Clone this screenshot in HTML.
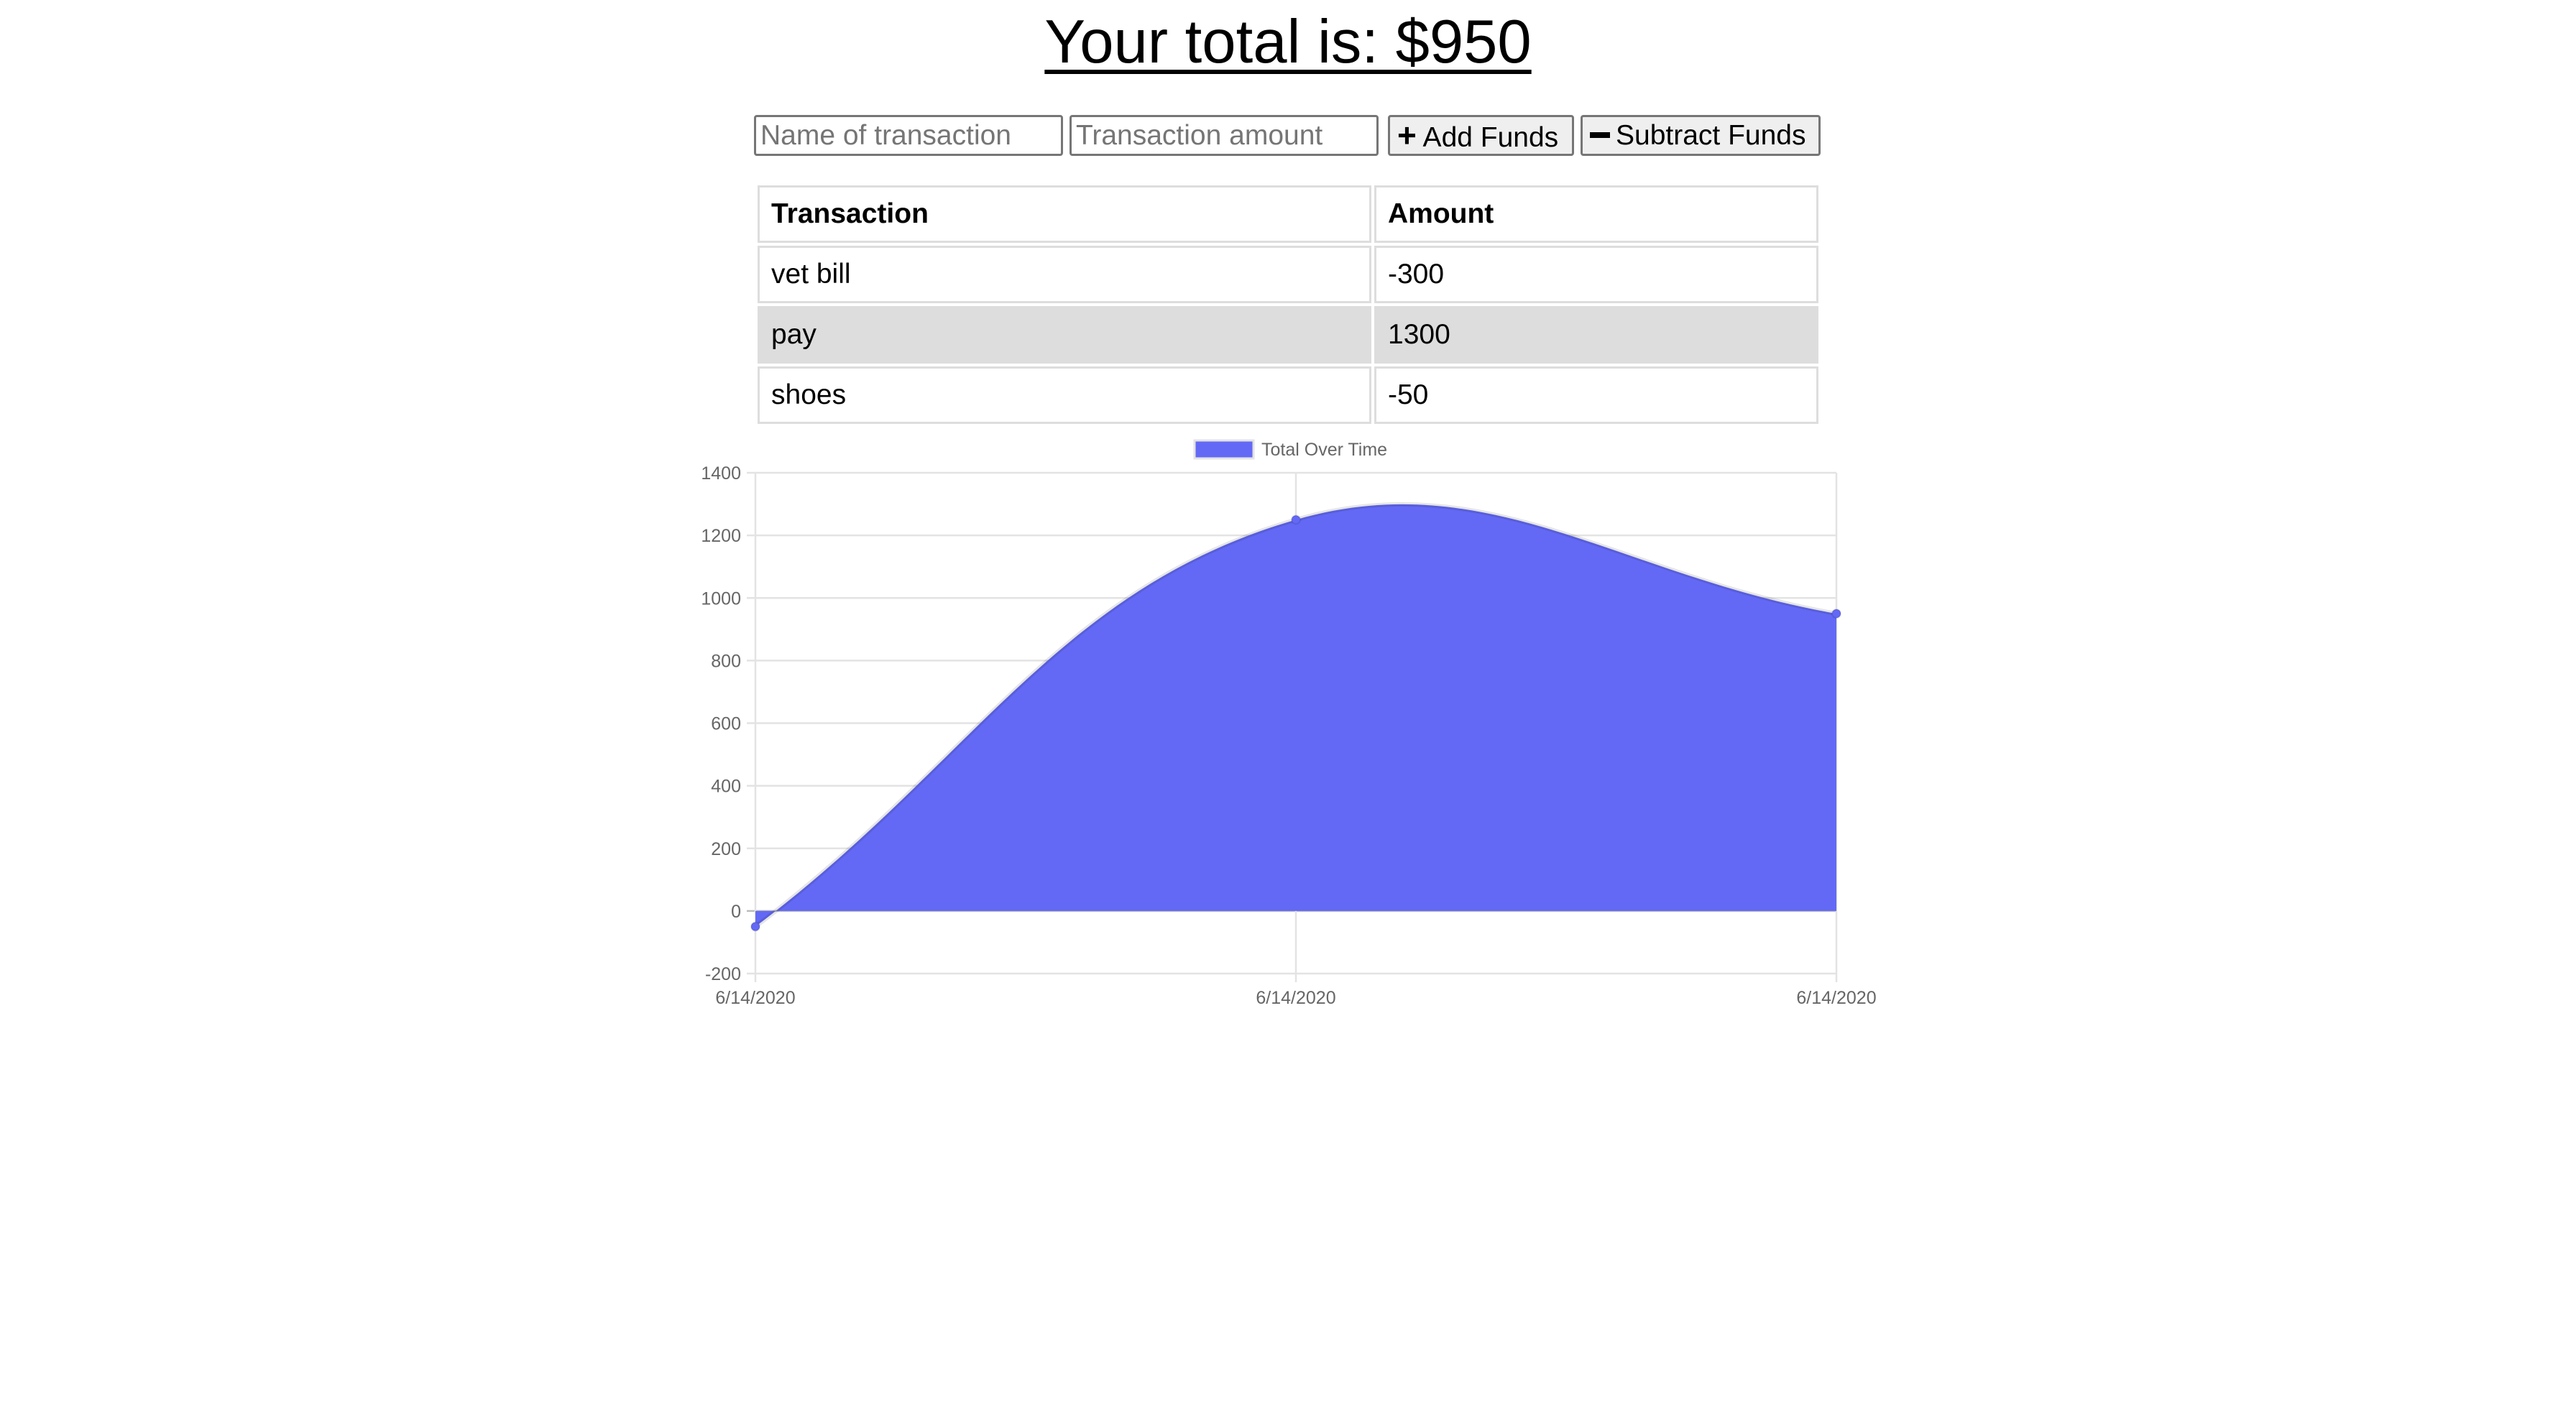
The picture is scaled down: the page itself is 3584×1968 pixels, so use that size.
<!DOCTYPE html>
<html><head><meta charset="utf-8">
<style>
html,body{margin:0;padding:0;background:#fff;width:3584px;height:1968px;overflow:hidden;font-family:"Liberation Sans",Arial,sans-serif;}
#title{position:absolute;left:0;width:3584px;top:4px;text-align:center;font-size:85px;line-height:110px;margin:0;font-weight:normal;text-decoration:underline;text-decoration-thickness:6px;text-underline-offset:10px;}
.inp{position:absolute;top:160px;height:57px;box-sizing:border-box;border:3px solid #767676;border-radius:4px;font-family:"Liberation Sans",sans-serif;font-size:39px;color:#757575;padding:0 6px;line-height:51px;background:#fff}
.btn{position:absolute;top:160px;height:57px;box-sizing:border-box;border:3px solid #767676;border-radius:4px;background:#efefef;font-size:39px;line-height:51px;color:#000;padding:0 10px;white-space:nowrap}
.cell{position:absolute;box-sizing:border-box;border:3px solid #ddd;font-size:39px;padding-left:16px;display:flex;align-items:center}
</style></head><body>
<h1 id="title">Your total is: $950</h1>
<div class="inp" style="left:1049px;width:430px">Name of transaction</div>
<div class="inp" style="left:1488px;width:430px">Transaction amount</div>
<div class="btn" style="left:1931px;width:259px"><b style="font-size:46px">+</b> Add Funds</div>
<div class="btn" style="left:2199px;width:334px"><b style="display:inline-block;width:28px;height:8px;background:#000;vertical-align:middle;margin-right:8px;margin-top:-6px"></b>Subtract Funds</div>

<div class="cell" style="left:1054px;top:258px;width:854px;height:80px;font-weight:bold">Transaction</div>
<div class="cell" style="left:1912px;top:258px;width:618px;height:80px;font-weight:bold">Amount</div>
<div class="cell" style="left:1054px;top:342px;width:854px;height:80px">vet bill</div>
<div class="cell" style="left:1912px;top:342px;width:618px;height:80px">-300</div>
<div class="cell" style="left:1054px;top:426px;width:854px;height:80px;background:#ddd">pay</div>
<div class="cell" style="left:1912px;top:426px;width:618px;height:80px;background:#ddd">1300</div>
<div class="cell" style="left:1054px;top:510px;width:854px;height:80px">shoes</div>
<div class="cell" style="left:1912px;top:510px;width:618px;height:80px">-50</div>

<svg id="chart" width="3584" height="1968" style="position:absolute;left:0;top:0"></svg>
<script>
const categories = ["6/14/2020","6/14/2020","6/14/2020"];
const totals = [-50, 1250, 950];
const yTicks = [-200,0,200,400,600,800,1000,1200,1400];
const NS="http://www.w3.org/2000/svg";
const svg=document.getElementById('chart');
const L=1051,R=2555,T=658,B=1355,yMin=-200,yMax=1400;
const xs=i=>L+(R-L)*i/(categories.length-1);
const ys=v=>B-(v-yMin)/(yMax-yMin)*(B-T);
function mk(tag,attrs,parent){const e=document.createElementNS(NS,tag);for(const k in attrs)e.setAttribute(k,attrs[k]);(parent||svg).appendChild(e);return e;}
yTicks.forEach(v=>{
  const y=ys(v);
  const g=mk('line',{x1:L-12,x2:R,y1:y,y2:y,stroke:v===0?'#bbb':'#e3e3e3','stroke-width':2.5});
  
  
  const t=mk('text',{x:L-20,y:y+9,'text-anchor':'end','font-size':25,fill:'#666','font-family':'Liberation Sans, sans-serif'});
  t.textContent=v;
  
  
});
categories.forEach((c,i)=>{
  const x=xs(i);
  const g=mk('line',{x1:x,x2:x,y1:T,y2:B+12,stroke:'#e3e3e3','stroke-width':2.5});
  
  
  const t=mk('text',{x:x,y:B+42,'text-anchor':'middle','font-size':25,fill:'#666','font-family':'Liberation Sans, sans-serif'});
  t.textContent=c;
  
  
});
// chart.js style spline, tension 0.4
const pts=totals.map((v,i)=>({x:xs(i),y:ys(v)}));
const cps=pts.map((p,i)=>{
  const pr=pts[Math.max(0,i-1)],nx=pts[Math.min(pts.length-1,i+1)];
  const d01=Math.hypot(p.x-pr.x,p.y-pr.y),d12=Math.hypot(nx.x-p.x,nx.y-p.y);
  let s01=d01/(d01+d12),s12=d12/(d01+d12);if(isNaN(s01))s01=0;if(isNaN(s12))s12=0;
  const fa=0.4*s01,fb=0.4*s12;
  return {px:p.x-fa*(nx.x-pr.x),py:p.y-fa*(nx.y-pr.y),nx:p.x+fb*(nx.x-pr.x),ny:p.y+fb*(nx.y-pr.y)};
});
let d=`M${pts[0].x},${pts[0].y}`;
for(let i=1;i<pts.length;i++){d+=` C${cps[i-1].nx},${cps[i-1].ny} ${cps[i].px},${cps[i].py} ${pts[i].x},${pts[i].y}`;}
const y0=ys(0);
const area=mk('path',{d:d+` L${pts[pts.length-1].x},${y0} L${pts[0].x},${y0} Z`,fill:'#6369f5'});


const line=mk('path',{d:d,fill:'none',stroke:'rgba(0,0,0,0.1)','stroke-width':6});


pts.forEach(p=>{
  const c=mk('circle',{cx:p.x,cy:p.y,r:6,fill:'#6369f5',stroke:'rgba(0,0,0,0.1)','stroke-width':2});
  
  
});
const lb=mk('rect',{x:1662,y:613,width:82,height:25,fill:'#6369f5',stroke:'#e3e3e3','stroke-width':3});


const lt=mk('text',{x:1755,y:634,'font-size':25,fill:'#666','font-family':'Liberation Sans, sans-serif'});
lt.textContent='Total Over Time';


</script>
</body></html>
